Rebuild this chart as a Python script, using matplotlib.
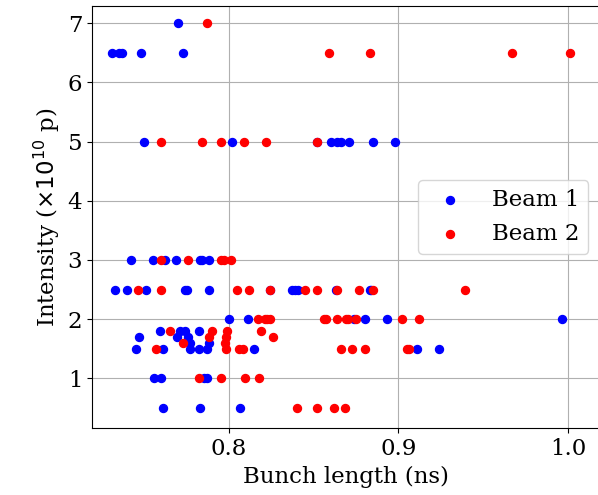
import matplotlib.pyplot as plt

plt.rcParams['font.family'] = 'DejaVu Serif'
plt.rcParams['font.size'] = 16.5

# Beam 1 (blue)
b1_len = [0.770,
          0.731, 0.735, 0.737, 0.748, 0.773,
          0.750, 0.802, 0.852, 0.860, 0.864, 0.866, 0.871, 0.885, 0.898,
          0.742, 0.755, 0.762, 0.769, 0.783, 0.784, 0.788,
          0.733, 0.740, 0.751, 0.774, 0.775, 0.788, 0.824, 0.837, 0.839, 0.841, 0.863, 0.883, 0.884,
          0.800, 0.811, 0.874, 0.880, 0.893, 0.9965,
          0.759, 0.771, 0.774, 0.782,
          0.747, 0.7695, 0.776,
          0.777, 0.788,
          0.745, 0.761, 0.777, 0.782, 0.787, 0.815, 0.911, 0.924,
          0.756, 0.760, 0.785, 0.787,
          0.761, 0.783, 0.8065]
b1_int = [7,
          6.5, 6.5, 6.5, 6.5, 6.5,
          5, 5, 5, 5, 5, 5, 5, 5, 5,
          3, 3, 3, 3, 3, 3, 3,
          2.5, 2.5, 2.5, 2.5, 2.5, 2.5, 2.5, 2.5, 2.5, 2.5, 2.5, 2.5, 2.5,
          2, 2, 2, 2, 2, 2,
          1.8, 1.8, 1.8, 1.8,
          1.7, 1.7, 1.7,
          1.6, 1.6,
          1.5, 1.5, 1.5, 1.5, 1.5, 1.5, 1.5, 1.5,
          1, 1, 1, 1,
          0.5, 0.5, 0.5]

# Beam 2 (red)
b2_len = [0.787,
          0.859, 0.883, 0.967, 1.001,
          0.760, 0.784, 0.795, 0.809, 0.822, 0.852,
          0.760, 0.776, 0.795, 0.797, 0.801,
          0.746, 0.760, 0.8045, 0.812, 0.824, 0.845, 0.852, 0.8635, 0.877, 0.885, 0.939,
          0.817, 0.821, 0.8225, 0.824, 0.856, 0.8575, 0.8635, 0.869, 0.8705, 0.875, 0.902, 0.912,
          0.765, 0.790, 0.799, 0.819,
          0.788, 0.7985, 0.826,
          0.773, 0.7975,
          0.757, 0.798, 0.806, 0.808, 0.866, 0.8725, 0.880, 0.905, 0.9065,
          0.782, 0.795, 0.8096, 0.8175,
          0.840, 0.852, 0.862, 0.8685]
b2_int = [7,
          6.5, 6.5, 6.5, 6.5,
          5, 5, 5, 5, 5, 5,
          3, 3, 3, 3, 3,
          2.5, 2.5, 2.5, 2.5, 2.5, 2.5, 2.5, 2.5, 2.5, 2.5, 2.5,
          2, 2, 2, 2, 2, 2, 2, 2, 2, 2, 2, 2,
          1.8, 1.8, 1.8, 1.8,
          1.7, 1.7, 1.7,
          1.6, 1.6,
          1.5, 1.5, 1.5, 1.5, 1.5, 1.5, 1.5, 1.5, 1.5,
          1, 1, 1, 1,
          0.5, 0.5, 0.5, 0.5]

fig = plt.figure(figsize=(5.98, 4.95), dpi=100)
ax = fig.add_axes([0.154, 0.135, 0.849, 0.853])
ax.scatter(b1_len, b1_int, s=33, color='blue', label='Beam 1')
ax.scatter(b2_len, b2_int, s=33, color='red', label='Beam 2')
ax.set_xlim(0.7192, 1.0188)
ax.set_ylim(0.16, 7.29)
ax.set_xticks([0.8, 0.9, 1.0])
ax.set_yticks([1, 2, 3, 4, 5, 6, 7])
ax.grid(True)
ax.set_axisbelow(True)
ax.set_xlabel('Bunch length (ns)')
ax.set_ylabel(r'Intensity ($\times 10^{10}$ p)')
ax.legend(loc='center right')
fig.savefig('out.png', dpi=100)
